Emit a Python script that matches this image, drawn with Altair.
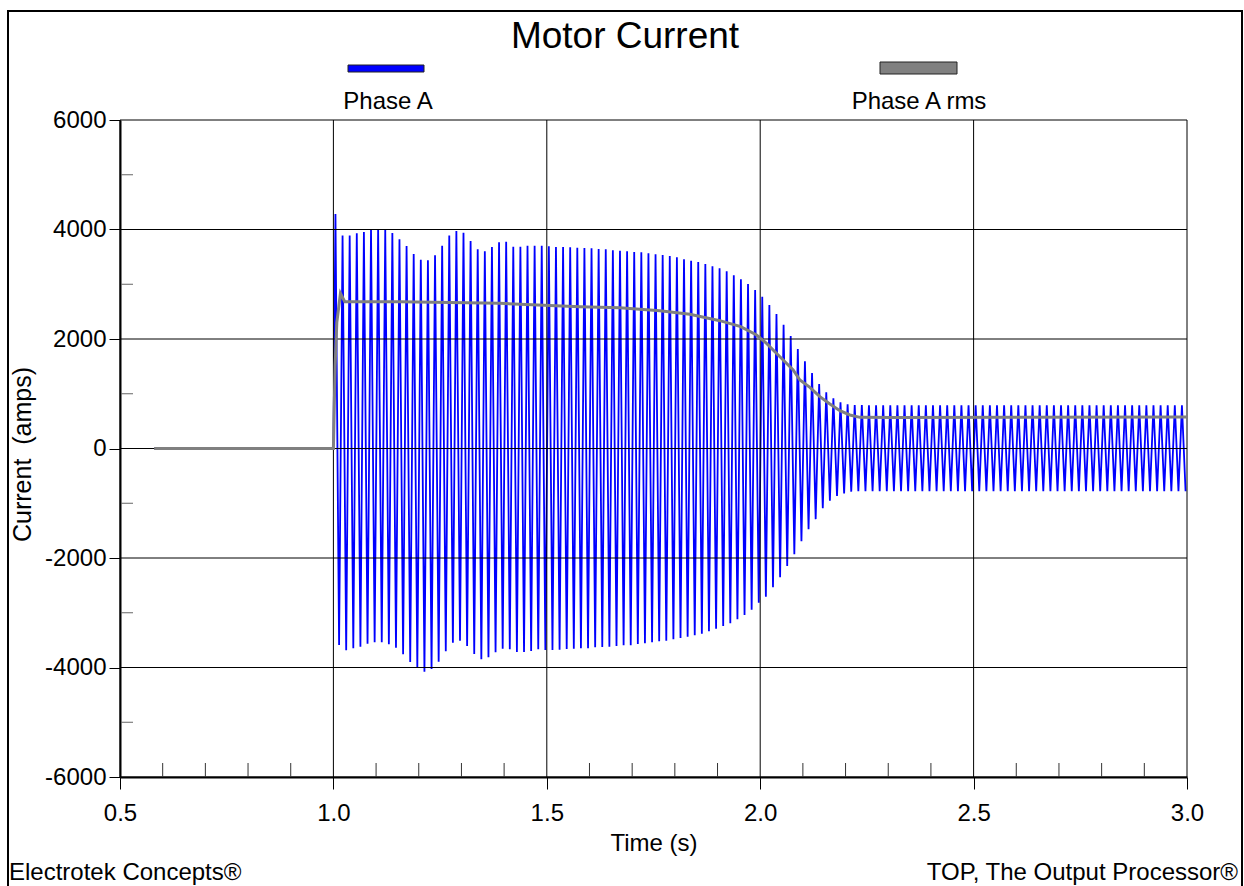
import altair as alt
import pandas as pd

FONT = "Liberation Sans"

TITLE = "Motor Current"
SERIES = ["Phase A", "Phase A rms"]
COLORS = ["#0000FF", "#808080"]
X_TITLE = "Time (s)"
Y_TITLE = "Current\u00a0\u00a0(amps)"
FOOT_LEFT = "Electrotek Concepts®"
FOOT_RIGHT = "TOP, The Output Processor®"

X_TICKS = [0.5, 1.0, 1.5, 2.0, 2.5, 3.0]
X_MINOR = [0.6, 0.7, 0.8, 0.9, 1.1, 1.2, 1.3, 1.4, 1.6, 1.7, 1.8, 1.9,
           2.1, 2.2, 2.3, 2.4, 2.6, 2.7, 2.8, 2.9]
Y_TICKS = [-6000, -4000, -2000, 0, 2000, 4000, 6000]
Y_MINOR = [-5000, -3000, -1000, 1000, 3000, 5000]

# Phase A: flat zero before the motor is switched on
WAVE_ZERO_T = [0.58, 1.0]
# 60 Hz waveform: time of first positive and first negative peak
FIRST_PEAK_T = 1.0048
FIRST_TROUGH_T = 1.0133
FREQ_HZ = 60

# positive peak of each cycle (amps)
POS_PEAKS = [
    4283, 3888, 3888, 3930, 3954, 3991, 4003, 3991, 3936, 3820,
    3699, 3553, 3449, 3437, 3528, 3705, 3888, 3973, 3942, 3790,
    3638, 3601, 3680, 3766, 3778, 3686, 3686, 3705, 3705, 3705,
    3693, 3680, 3680, 3674, 3668, 3662, 3656, 3644, 3638, 3620,
    3613, 3601, 3589, 3583, 3565, 3547, 3534, 3516, 3492, 3455,
    3431, 3406, 3370, 3327, 3291, 3236, 3163, 3090, 3005, 2895,
    2773, 2621, 2457, 2262, 2055, 1817, 1592, 1380, 1178, 1026,
    916, 843, 807, 795, 792, 790, 790, 790, 790, 790,
    790, 790, 790, 790, 790, 790, 790, 790, 790, 790,
    790, 790, 790, 790, 790, 790, 790, 790, 790, 790,
    790, 790, 790, 790, 790, 790, 790, 790, 790, 790,
    790, 790, 790, 790, 790, 790, 790, 790, 790, 790,
]
# magnitude of the negative peak of each cycle (amps)
NEG_PEAKS = [
    3589, 3686, 3650, 3619, 3565, 3540, 3540, 3577, 3638, 3760,
    3900, 4009, 4076, 4027, 3893, 3705, 3547, 3510, 3607, 3753,
    3851, 3814, 3723, 3656, 3668, 3717, 3717, 3699, 3668, 3680,
    3680, 3674, 3662, 3656, 3650, 3650, 3632, 3626, 3619, 3607,
    3595, 3595, 3571, 3559, 3540, 3522, 3510, 3486, 3461, 3437,
    3412, 3382, 3339, 3291, 3242, 3193, 3120, 3041, 2944, 2816,
    2706, 2536, 2353, 2146, 1933, 1696, 1476, 1290, 1093, 953,
    868, 819, 788, 780, 780, 780, 780, 780, 780, 780,
    780, 780, 780, 780, 780, 780, 780, 780, 780, 780,
    780, 780, 780, 780, 780, 780, 780, 780, 780, 780,
    780, 780, 780, 780, 780, 780, 780, 780, 780, 780,
    780, 780, 780, 780, 780, 780, 780, 780, 780, 780,
]

# Phase A rms
RMS_T = [0.58, 1.0, 1.004, 1.008, 1.0165, 1.0266, 1.1555, 1.3898, 1.5773,
         1.6242, 1.6711, 1.7648, 1.8351, 1.9054, 1.9543, 1.9915, 2.0149,
         2.0461, 2.0772, 2.0930, 2.1164, 2.1398, 2.1633, 2.1867, 2.2101,
         2.2336, 2.311, 3.0]
RMS_V = [0, 0, 1500, 2300, 2834, 2682, 2682, 2651, 2590,
         2578, 2572, 2517, 2451, 2335, 2225, 2073, 1921,
         1677, 1434, 1251, 1117, 946, 813, 691, 612,
         569, 566, 575]

# ---------------------------------------------------------------- tables
rows = [{"t": t, "v": 0} for t in WAVE_ZERO_T]
for k, (p, q) in enumerate(zip(POS_PEAKS, NEG_PEAKS)):
    rows.append({"t": FIRST_PEAK_T + k / FREQ_HZ, "v": p})
    rows.append({"t": FIRST_TROUGH_T + k / FREQ_HZ, "v": -q})
wave_df = pd.DataFrame(rows)
wave_df["i"] = range(len(wave_df))
rms_df = pd.DataFrame({"t": RMS_T, "v": RMS_V})

xgrid_df = pd.DataFrame({"t": X_TICKS})
ygrid_df = pd.DataFrame({"v": Y_TICKS})
xminor_df = pd.DataFrame({"t": X_MINOR})
yminor_df = pd.DataFrame({"v": Y_MINOR})

W, H = 1067, 657

xs = alt.Scale(domain=[0.5, 3.0], nice=False, zero=False)
ys = alt.Scale(domain=[-6000, 6000], nice=False, zero=False)

x_axis = alt.Axis(
    values=X_TICKS, format=".1f", grid=False,
    labelFont=FONT, labelFontSize=24, labelColor="black", labelPadding=12,
    labelFlush=False, labelOverlap=False,
    tickSize=12, tickColor="black", tickWidth=1,
    domainColor="black", domainWidth=2,
    title=X_TITLE, titleFont=FONT, titleFontSize=24, titleFontWeight="normal",
    titleColor="black", titleX=W / 2, titleY=73, titleAlign="center",
    titleBaseline="alphabetic",
)
y_axis = alt.Axis(
    values=Y_TICKS, grid=False,
    labelExpr="datum.value < 0 ? '-' + abs(datum.value) : '' + datum.value",
    labelFont=FONT, labelFontSize=24, labelColor="black", labelPadding=3,
    labelOverlap=False, labelFlush=False,
    tickSize=11, tickColor="black", tickWidth=1,
    domainColor="black", domainWidth=2,
    title=Y_TITLE, titleFont=FONT, titleFontSize=25, titleFontWeight="normal",
    titleColor="black", titleX=-98, titleY=334, titleAngle=270,
    titleAlign="center", titleBaseline="middle",
)

X = alt.X("t:Q", scale=xs, axis=x_axis)
Y = alt.Y("v:Q", scale=ys, axis=y_axis)

wave = alt.Chart(wave_df).mark_line(color=COLORS[0], strokeWidth=1.8).encode(
    x=X, y=Y, order="i:Q"
)
xgrid = alt.Chart(xgrid_df).mark_rule(color="black", strokeWidth=1).encode(x=X)
ygrid = alt.Chart(ygrid_df).mark_rule(color="black", strokeWidth=1).encode(y=Y)
xminor = alt.Chart(xminor_df).mark_rule(color="#333333", strokeWidth=1).encode(
    x=X, y=alt.value(H), y2=alt.value(H - 14)
)
yminor = alt.Chart(yminor_df).mark_rule(color="#666666", strokeWidth=1).encode(
    y=Y, x=alt.value(1), x2=alt.value(13)
)
rms = alt.Chart(rms_df).mark_line(color=COLORS[1], strokeWidth=3).encode(x=X, y=Y)


def label(text, x, y, size, align):
    return alt.Chart(pd.DataFrame({"s": [text]})).mark_text(
        font=FONT, fontSize=size, color="black", align=align, baseline="alphabetic"
    ).encode(x=alt.value(x), y=alt.value(y), text="s:N")


def swatch(color, x1, x2, y1, y2):
    return alt.Chart(pd.DataFrame({"s": [0]})).mark_rect(
        color=color, stroke="#222222", strokeWidth=1
    ).encode(x=alt.value(x1), x2=alt.value(x2), y=alt.value(y1), y2=alt.value(y2))


title = label(TITLE, 505, -72, 37, "center")
leg1 = swatch(COLORS[0], 228, 304, -55, -48)
leg2 = swatch(COLORS[1], 760, 837, -58, -46)
leg1t = label(SERIES[0], 268, -11, 24, "center")
leg2t = label(SERIES[1], 799, -11, 24, "center")
footl = label(FOOT_LEFT, -111, 760, 24, "left")
footr = label(FOOT_RIGHT, 1118, 760, 24, "right")
border = alt.Chart(pd.DataFrame({"s": [0]})).mark_rect(
    fill="transparent", stroke="black", strokeWidth=2
).encode(x=alt.value(-112), x2=alt.value(1122), y=alt.value(-109), y2=alt.value(772))

chart = alt.layer(
    wave, xgrid, ygrid, xminor, yminor, rms,
    title, leg1, leg2, leg1t, leg2t, footl, footr, border
).properties(
    width=W, height=H,
    padding={"left": 120, "top": 120, "right": 57, "bottom": 109},
    autosize=alt.AutoSizeParams(type="none"),
    background="white",
).configure_view(strokeWidth=0)

chart.save("out.html", embed_options={"renderer": "svg", "actions": False})
